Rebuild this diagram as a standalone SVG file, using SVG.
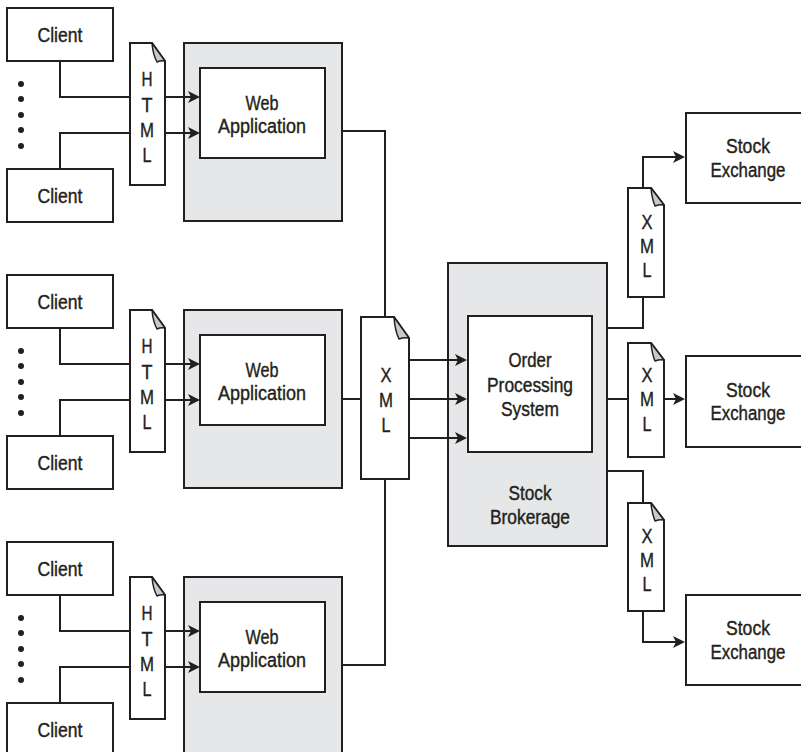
<svg xmlns="http://www.w3.org/2000/svg" width="801" height="752" viewBox="0 0 801 752">
<style>
.box{fill:#fff;stroke:#231f20;stroke-width:2}
.grey{fill:#e6e7e8;stroke:#231f20;stroke-width:2}
.doc{fill:#fff;stroke:#231f20;stroke-width:2;stroke-linejoin:miter}
.fold{fill:#c8c9ca;stroke:#231f20;stroke-width:1.5;stroke-linejoin:round}
.ln{fill:none;stroke:#231f20;stroke-width:2}
.head{fill:#231f20;stroke:none}
text{font-family:"Liberation Sans",Arial,sans-serif;font-size:20px;fill:#231f20;text-anchor:middle;stroke:#231f20;stroke-width:0.4}
.dot{fill:#231f20}
</style>
<defs>
<path id="ah" class="head" d="M-12,-6 L0,0 L-12,6 L-9,0 Z"/>
</defs>

<g id="dots1"><circle class="dot" cx="21" cy="84" r="3"/><circle class="dot" cx="21" cy="99" r="3"/><circle class="dot" cx="21" cy="115" r="3"/><circle class="dot" cx="21" cy="130" r="3"/><circle class="dot" cx="21" cy="146" r="3"/></g>
<g id="dots2"><circle class="dot" cx="21" cy="351" r="3"/><circle class="dot" cx="21" cy="366" r="3"/><circle class="dot" cx="21" cy="382" r="3"/><circle class="dot" cx="21" cy="397" r="3"/><circle class="dot" cx="21" cy="413" r="3"/></g>
<g id="dots3"><circle class="dot" cx="21" cy="618" r="3"/><circle class="dot" cx="21" cy="633" r="3"/><circle class="dot" cx="21" cy="649" r="3"/><circle class="dot" cx="21" cy="664" r="3"/><circle class="dot" cx="21" cy="680" r="3"/></g>

<g id="client1a"><rect class="box" x="7" y="8" width="106" height="53"/><text x="60" y="42" textLength="45" lengthAdjust="spacingAndGlyphs">Client</text></g>
<g id="client1b"><rect class="box" x="7" y="169" width="106" height="53"/><text x="60" y="203" textLength="45" lengthAdjust="spacingAndGlyphs">Client</text></g>
<g id="html1"><path class="doc" d="M130,43 H152 L165,61 V185 H130 Z"/><path class="fold" d="M152,43 Q153,55 157,62 Q161,60 165,61 Z"/>
<text x="147" y="86" textLength="11" lengthAdjust="spacingAndGlyphs">H</text><text x="147" y="112" textLength="11" lengthAdjust="spacingAndGlyphs">T</text><text x="147" y="137" textLength="14" lengthAdjust="spacingAndGlyphs">M</text><text x="147" y="162" textLength="9" lengthAdjust="spacingAndGlyphs">L</text></g>
<g id="webapp1"><rect class="grey" x="184" y="43" width="158" height="178"/><rect class="box" x="200" y="68" width="125" height="90"/>
<text x="262" y="110" textLength="33" lengthAdjust="spacingAndGlyphs">Web</text><text x="262" y="133" textLength="88" lengthAdjust="spacingAndGlyphs">Application</text></g>

<g id="client2a"><rect class="box" x="7" y="275" width="106" height="53"/><text x="60" y="309" textLength="45" lengthAdjust="spacingAndGlyphs">Client</text></g>
<g id="client2b"><rect class="box" x="7" y="436" width="106" height="53"/><text x="60" y="470" textLength="45" lengthAdjust="spacingAndGlyphs">Client</text></g>
<g id="html2"><path class="doc" d="M130,310 H152 L165,328 V452 H130 Z"/><path class="fold" d="M152,310 Q153,322 157,329 Q161,327 165,328 Z"/>
<text x="147" y="353" textLength="11" lengthAdjust="spacingAndGlyphs">H</text><text x="147" y="379" textLength="11" lengthAdjust="spacingAndGlyphs">T</text><text x="147" y="404" textLength="14" lengthAdjust="spacingAndGlyphs">M</text><text x="147" y="429" textLength="9" lengthAdjust="spacingAndGlyphs">L</text></g>
<g id="webapp2"><rect class="grey" x="184" y="310" width="158" height="178"/><rect class="box" x="200" y="335" width="125" height="90"/>
<text x="262" y="377" textLength="33" lengthAdjust="spacingAndGlyphs">Web</text><text x="262" y="400" textLength="88" lengthAdjust="spacingAndGlyphs">Application</text></g>

<g id="client3a"><rect class="box" x="7" y="542" width="106" height="53"/><text x="60" y="576" textLength="45" lengthAdjust="spacingAndGlyphs">Client</text></g>
<g id="client3b"><rect class="box" x="7" y="703" width="106" height="60"/><text x="60" y="737" textLength="45" lengthAdjust="spacingAndGlyphs">Client</text></g>
<g id="html3"><path class="doc" d="M130,577 H152 L165,595 V719 H130 Z"/><path class="fold" d="M152,577 Q153,589 157,596 Q161,594 165,595 Z"/>
<text x="147" y="620" textLength="11" lengthAdjust="spacingAndGlyphs">H</text><text x="147" y="646" textLength="11" lengthAdjust="spacingAndGlyphs">T</text><text x="147" y="671" textLength="14" lengthAdjust="spacingAndGlyphs">M</text><text x="147" y="696" textLength="9" lengthAdjust="spacingAndGlyphs">L</text></g>
<g id="webapp3"><rect class="grey" x="184" y="577" width="158" height="190"/><rect class="box" x="200" y="602" width="125" height="90"/>
<text x="262" y="644" textLength="33" lengthAdjust="spacingAndGlyphs">Web</text><text x="262" y="667" textLength="88" lengthAdjust="spacingAndGlyphs">Application</text></g>

<g id="xml-mid"><path class="doc" d="M361,317 H394 L409,338 V479 H361 Z"/><path class="fold" d="M394,317 Q395,331 399,339 Q404,337 409,338 Z"/>
<text x="386" y="382" textLength="11" lengthAdjust="spacingAndGlyphs">X</text><text x="386" y="407" textLength="14" lengthAdjust="spacingAndGlyphs">M</text><text x="386" y="432" textLength="9" lengthAdjust="spacingAndGlyphs">L</text></g>

<g id="brokerage"><rect class="grey" x="448" y="263" width="159" height="283"/><rect class="box" x="468" y="316" width="124" height="136"/>
<text x="530" y="367" textLength="43" lengthAdjust="spacingAndGlyphs">Order</text><text x="530" y="392" textLength="86" lengthAdjust="spacingAndGlyphs">Processing</text><text x="530" y="416" textLength="58" lengthAdjust="spacingAndGlyphs">System</text>
<text x="530" y="500" textLength="43" lengthAdjust="spacingAndGlyphs">Stock</text><text x="530" y="524" textLength="80" lengthAdjust="spacingAndGlyphs">Brokerage</text></g>

<g id="xml-r1"><path class="doc" d="M628,188 H651 L664,205 V297 H628 Z"/><path class="fold" d="M651,188 Q652,199 655,206 Q660,204 664,205 Z"/>
<text x="647" y="229" textLength="11" lengthAdjust="spacingAndGlyphs">X</text><text x="647" y="253" textLength="14" lengthAdjust="spacingAndGlyphs">M</text><text x="647" y="277" textLength="9" lengthAdjust="spacingAndGlyphs">L</text></g>
<g id="xml-r2"><path class="doc" d="M628,343 H651 L664,360 V457 H628 Z"/><path class="fold" d="M651,343 Q652,354 655,361 Q660,359 664,360 Z"/>
<text x="647" y="382" textLength="11" lengthAdjust="spacingAndGlyphs">X</text><text x="647" y="406" textLength="14" lengthAdjust="spacingAndGlyphs">M</text><text x="647" y="431" textLength="9" lengthAdjust="spacingAndGlyphs">L</text></g>
<g id="xml-r3"><path class="doc" d="M628,503 H651 L664,520 V611 H628 Z"/><path class="fold" d="M651,503 Q652,514 655,521 Q660,519 664,520 Z"/>
<text x="647" y="543" textLength="11" lengthAdjust="spacingAndGlyphs">X</text><text x="647" y="567" textLength="14" lengthAdjust="spacingAndGlyphs">M</text><text x="647" y="591" textLength="9" lengthAdjust="spacingAndGlyphs">L</text></g>

<g id="exchange1"><rect class="box" x="686" y="113" width="130" height="90"/><text x="748" y="153" textLength="44" lengthAdjust="spacingAndGlyphs">Stock</text><text x="748" y="177" textLength="75" lengthAdjust="spacingAndGlyphs">Exchange</text></g>
<g id="exchange2"><rect class="box" x="686" y="356" width="130" height="91"/><text x="748" y="397" textLength="44" lengthAdjust="spacingAndGlyphs">Stock</text><text x="748" y="420" textLength="75" lengthAdjust="spacingAndGlyphs">Exchange</text></g>
<g id="exchange3"><rect class="box" x="686" y="595" width="130" height="90"/><text x="748" y="635" textLength="44" lengthAdjust="spacingAndGlyphs">Stock</text><text x="748" y="659" textLength="75" lengthAdjust="spacingAndGlyphs">Exchange</text></g>

<g id="connectors">
<path class="ln" d="M60,61 V97 H130"/><path class="ln" d="M165,97 H196"/>
<path class="ln" d="M60,169 V133 H130"/><path class="ln" d="M165,133 H196"/>
<path class="ln" d="M60,328 V364 H130"/><path class="ln" d="M165,364 H196"/>
<path class="ln" d="M60,436 V400 H130"/><path class="ln" d="M165,400 H196"/>
<path class="ln" d="M60,595 V631 H130"/><path class="ln" d="M165,631 H196"/>
<path class="ln" d="M60,703 V667 H130"/><path class="ln" d="M165,667 H196"/>
<path class="ln" d="M342,131 H385 V317"/>
<path class="ln" d="M342,399 H361"/>
<path class="ln" d="M342,665 H385 V479"/>
<path class="ln" d="M409,360 H462"/>
<path class="ln" d="M409,399 H462"/>
<path class="ln" d="M409,438 H462"/>
<path class="ln" d="M607,328 H643 V297"/><path class="ln" d="M643,188 V157 H680"/>
<path class="ln" d="M607,399 H628"/><path class="ln" d="M664,399 H680"/>
<path class="ln" d="M607,471 H643 V503"/><path class="ln" d="M643,611 V642 H680"/>
<use href="#ah" x="200" y="97"/><use href="#ah" x="200" y="133"/>
<use href="#ah" x="200" y="364"/><use href="#ah" x="200" y="400"/>
<use href="#ah" x="200" y="631"/><use href="#ah" x="200" y="667"/>
<use href="#ah" x="467" y="360"/><use href="#ah" x="467" y="399"/><use href="#ah" x="467" y="438"/>
<use href="#ah" x="685" y="157"/><use href="#ah" x="685" y="399"/><use href="#ah" x="685" y="642"/>
</g>
</svg>
